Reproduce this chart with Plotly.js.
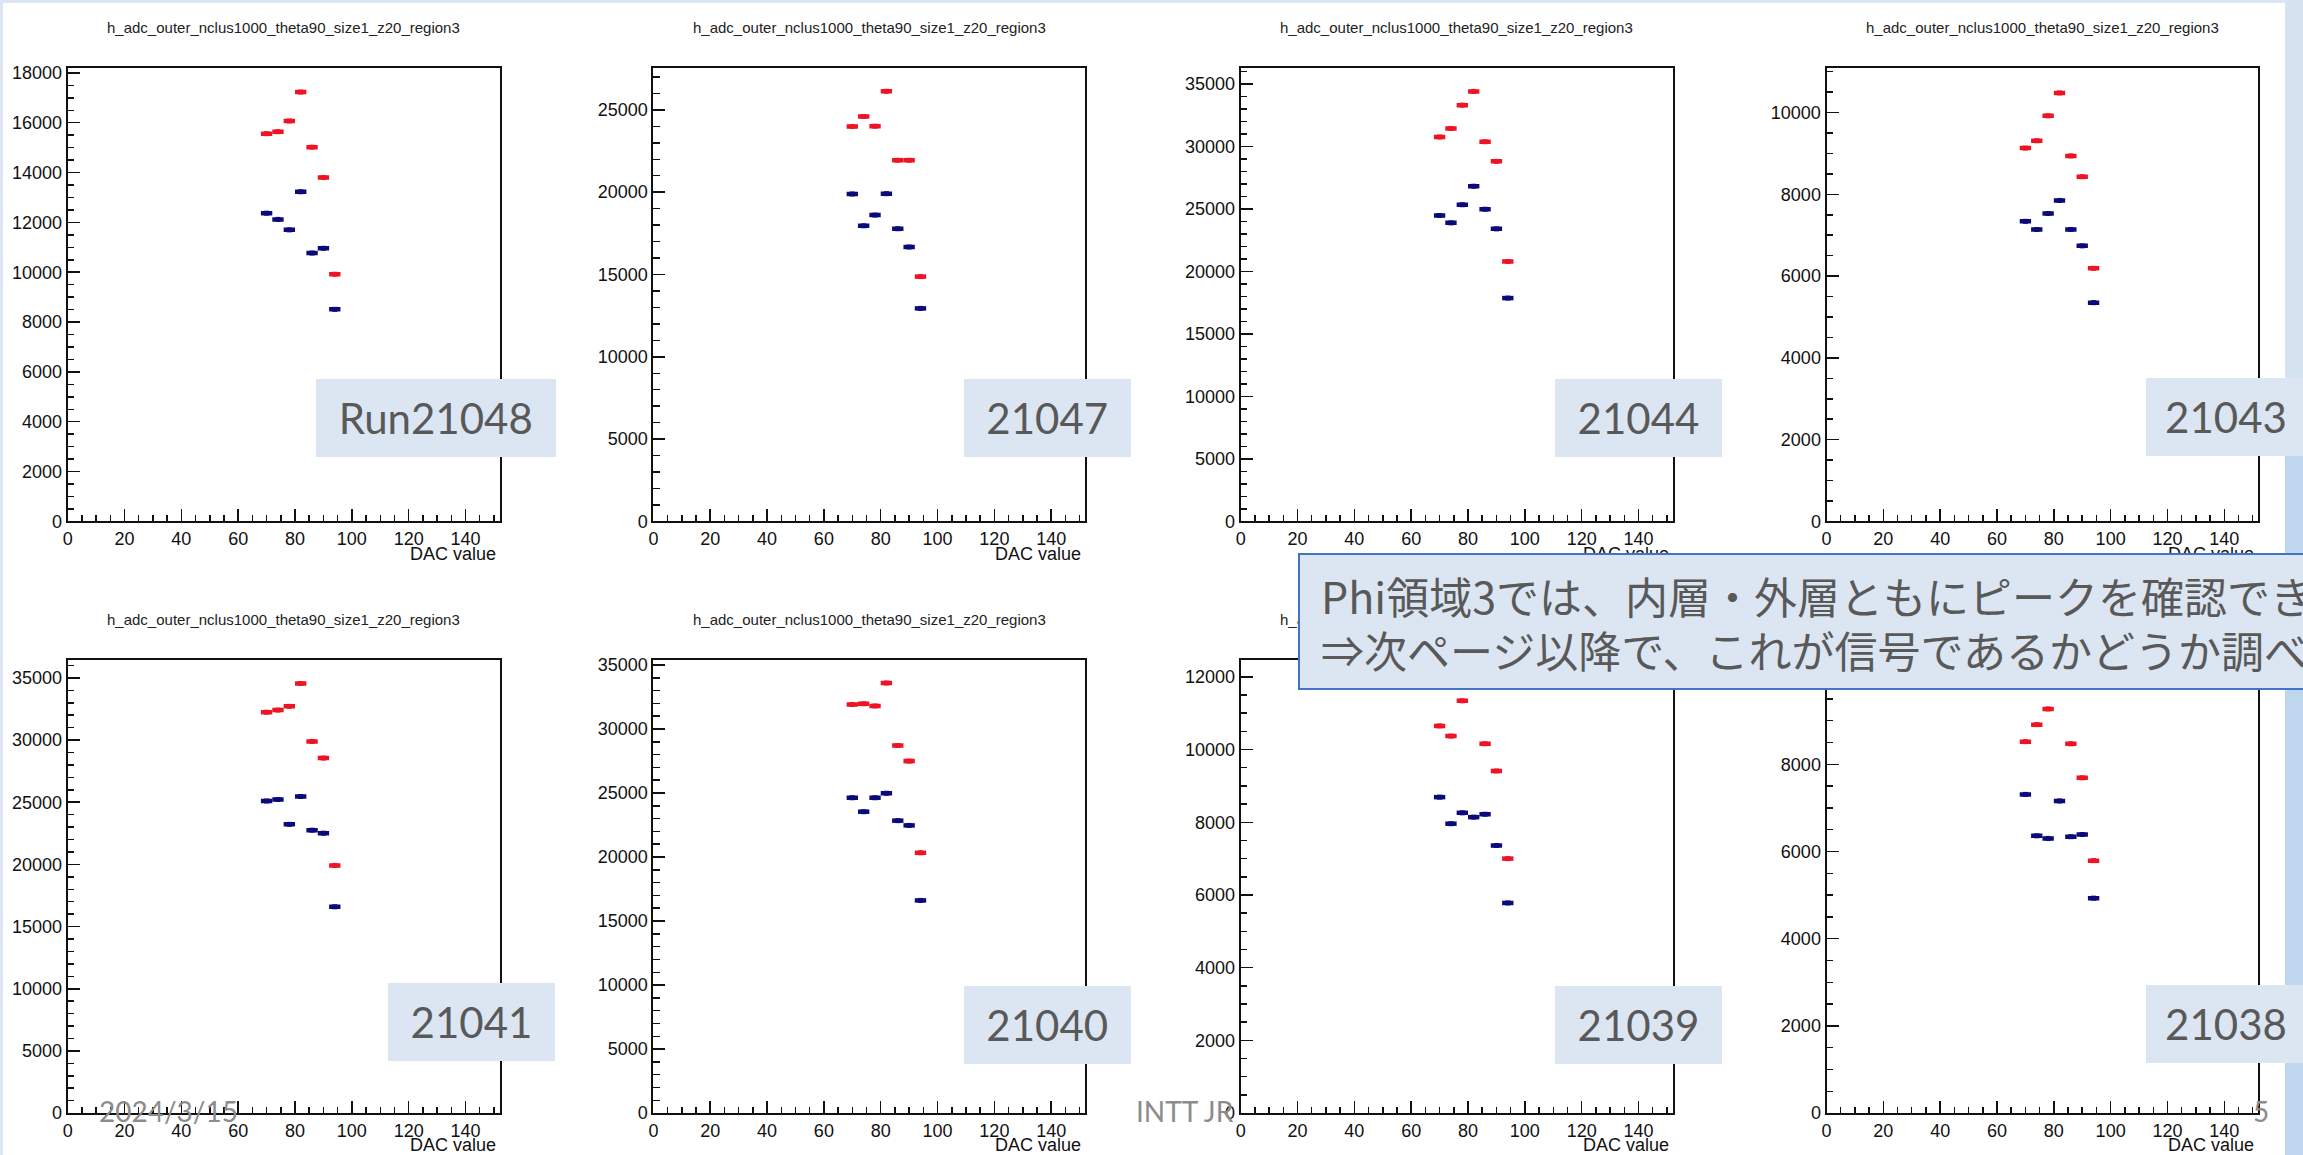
<!DOCTYPE html>
<html>
<head>
<meta charset="utf-8">
<script src="https://cdn.plot.ly/plotly-3.0.1.min.js"></script>
<style>
html,body{margin:0;padding:0;background:#fff;overflow:hidden}
#chart{width:2303px;height:1155px}
</style>
</head>
<body>
<div id="chart"></div>
<script>
// ---------------- data ----------------
const dacValues = [70, 74, 78, 82, 86, 90, 94];
const plotTitle = 'h_adc_outer_nclus1000_theta90_size1_z20_region3';
const xAxisLabel = 'DAC value';
const runLabels = ['Run21048', '21047', '21044', '21043', '21041', '21040', '21039', '21038'];

const red21048  = [15560, 15640, 16070, 17230, 15020, 13800, 9920];
const blue21048 = [12370, 12120, 11700, 13230, 10770, 10960, 8510];
const red21047  = [23990, 24600, 24010, 26130, 21940, 21940, 14870];
const blue21047 = [19890, 17960, 18610, 19910, 17780, 16670, 12940];
const red21044  = [30760, 31440, 33310, 34410, 30380, 28810, 20800];
const blue21044 = [24480, 23890, 25340, 26820, 24980, 23410, 17870];
const red21043  = [9130, 9310, 9920, 10480, 8940, 8430, 6190];
const blue21043 = [7340, 7140, 7530, 7850, 7140, 6740, 5350];
const red21041  = [32240, 32410, 32710, 34550, 29890, 28550, 19920];
const blue21041 = [25100, 25220, 23220, 25460, 22750, 22510, 16590];
const red21040  = [31910, 31970, 31800, 33590, 28710, 27490, 20330];
const blue21040 = [24630, 23540, 24630, 24980, 22840, 22470, 16610];
const red21039  = [10650, 10370, 11340, 11850, 10160, 9410, 7000];
const blue21039 = [8690, 7960, 8260, 8140, 8220, 7360, 5780];
const red21038  = [8520, 8910, 9270, 9880, 8470, 7690, 5790];
const blue21038 = [7310, 6360, 6300, 7160, 6340, 6390, 4930];

const redSeries  = [red21048, red21047, red21044, red21043, red21041, red21040, red21039, red21038];
const blueSeries = [blue21048, blue21047, blue21044, blue21043, blue21041, blue21040, blue21039, blue21038];

const yAxisMax   = [18180, 27520, 36250, 11080, 36430, 35380, 12460, 10390];
const yMajorStep = [2000, 5000, 5000, 2000, 5000, 5000, 2000, 2000];
const yMinorStep = [500, 1000, 1000, 500, 1000, 1000, 500, 500];
const xAxisMax = 152;
const binHalfWidth = 2;

const boxLine1 = 'Phi領域3では、内層・外層ともにピークを確認できた';
const boxLine2 = '⇒次ページ以降で、これが信号であるかどうか調べる';
const footerDate = '2024/3/15';
const footerName = 'INTT JR';
const pageNumber = '5';

// ---------------- layout constants (pixels) ----------------
const W = 2303, H = 1155;
const colLeft = [67.7, 653.4, 1240.7, 1826.5];
const frameW = 431.9;
const rowTop = [68.4, 660.1];
const frameH = 453.0;
const titleY = [27.7, 619.4];
const dacLabelY = [553.7, 1144.7];
const runBoxes = [
  [315.5, 379, 555, 457], [964, 379, 1130.5, 457], [1555, 379, 1722, 457], [2146, 378, 2306, 456],
  [388, 983, 555, 1061], [964, 985.6, 1130.5, 1063.3], [1555, 985.6, 1722, 1063.3], [2146, 985, 2306, 1062.5]
];

const RED = '#ee1424';
const BLUE = '#0b0a7a';
const AXC = '#111111';
const rootFont = 'Liberation Sans, Arial, Helvetica, sans-serif';

const px = v => v / W;
const py = v => 1 - v / H;

const traces = [];
const layout = {
  width: W, height: H,
  margin: {l: 0, r: 0, t: 0, b: 0},
  paper_bgcolor: '#ffffff',
  plot_bgcolor: '#ffffff',
  showlegend: false,
  annotations: [],
  shapes: []
};

for (let i = 0; i < 8; i++) {
  const col = i % 4, row = Math.floor(i / 4);
  const xa = 'x' + (i + 1), ya = 'y' + (i + 1);
  const xKey = 'xaxis' + (i === 0 ? '' : (i + 1));
  const yKey = 'yaxis' + (i === 0 ? '' : (i + 1));
  const left = colLeft[col], top = rowTop[row];

  [[redSeries[i], RED], [blueSeries[i], BLUE]].forEach(([vals, c]) => {
    traces.push({
      type: 'scatter', mode: 'markers',
      x: dacValues, y: vals,
      xaxis: xa, yaxis: ya,
      marker: {symbol: 'square', size: 5, color: c},
      error_x: {type: 'constant', value: binHalfWidth, thickness: 4.5, width: 0, color: c},
      hoverinfo: 'skip', cliponaxis: false
    });
  });

  const common = {
    showgrid: false, zeroline: false,
    showline: true, mirror: true, linecolor: AXC, linewidth: 2,
    ticks: 'inside', tickcolor: AXC, tickwidth: 1.5, ticklen: 12,
    tickfont: {family: rootFont, size: 18, color: AXC},
    tickformat: 'd', tickmode: 'linear', tick0: 0, fixedrange: true
  };
  layout[xKey] = Object.assign({}, common, {
    domain: [px(left), px(left + frameW)],
    anchor: ya, range: [0, xAxisMax], dtick: 20,
    minor: {dtick: 5, ticklen: 6.5, ticks: 'inside', tickcolor: AXC, tickwidth: 1.5}
  });
  layout[yKey] = Object.assign({}, common, {
    domain: [py(top + frameH), py(top)],
    anchor: xa, range: [0, yAxisMax[i]], dtick: yMajorStep[i],
    minor: {dtick: yMinorStep[i], ticklen: 6.5, ticks: 'inside', tickcolor: AXC, tickwidth: 1.5}
  });

  layout.annotations.push({
    xref: 'paper', yref: 'paper', x: px(left + frameW / 2), y: py(titleY[row]),
    xanchor: 'center', yanchor: 'middle', showarrow: false,
    text: plotTitle, font: {family: rootFont, size: 15, color: '#222'}
  });
  layout.annotations.push({
    xref: 'paper', yref: 'paper', x: px(left + frameW - 2), y: py(dacLabelY[row]),
    xanchor: 'right', yanchor: 'middle', showarrow: false,
    text: xAxisLabel, font: {family: rootFont, size: 18, color: AXC}
  });
}

// slide decorations
layout.shapes.push(
  {type: 'rect', xref: 'paper', yref: 'paper', x0: 0, x1: 1, y0: py(3), y1: 1, line: {width: 0}, fillcolor: '#dce6f2', layer: 'below'},
  {type: 'rect', xref: 'paper', yref: 'paper', x0: 0, x1: px(3), y0: 0, y1: 1, line: {width: 0}, fillcolor: '#dce6f2', layer: 'below'},
  {type: 'rect', xref: 'paper', yref: 'paper', x0: px(2285), x1: 1, y0: py(456), y1: 1, line: {width: 0}, fillcolor: '#d6e3f1', layer: 'below'},
  {type: 'rect', xref: 'paper', yref: 'paper', x0: px(2285), x1: 1, y0: 0, y1: py(456), line: {width: 0}, fillcolor: '#bed6ee', layer: 'below'}
);

// footers
const footFont = {family: 'Lato, Noto Sans, sans-serif', size: 28, color: '#8c8c8c'};
[[footerDate, 168], [footerName, 1184.7], [pageNumber, 2261]].forEach(([t, x]) => {
  layout.annotations.push({
    xref: 'paper', yref: 'paper', x: px(x), y: py(1111), xanchor: 'center', yanchor: 'middle',
    showarrow: false, text: t, font: footFont
  });
});

// run label boxes
runBoxes.forEach((b, i) => {
  layout.annotations.push({
    xref: 'paper', yref: 'paper', x: px(b[0]), y: py(b[1]), xanchor: 'left', yanchor: 'top',
    width: b[2] - b[0], height: b[3] - b[1], showarrow: false,
    bgcolor: '#dce6f2', borderpad: 0, borderwidth: 0, align: 'center', valign: 'middle',
    text: runLabels[i], font: {family: 'Lato, Noto Sans, sans-serif', size: 42, color: '#595959'}
  });
});

// summary text box
layout.annotations.push({
  xref: 'paper', yref: 'paper', x: px(1298), y: py(553), xanchor: 'left', yanchor: 'top',
  width: 1100, height: 133, showarrow: false,
  bgcolor: '#dce6f2', bordercolor: '#4472c4', borderwidth: 2, borderpad: 0,
  text: ' ', font: {size: 10}
});
[[boxLine1, 595.3], [boxLine2, 649]].forEach(([t, y]) => {
  layout.annotations.push({
    xref: 'paper', yref: 'paper', x: px(1318.6), y: py(y), xanchor: 'left', yanchor: 'middle',
    showarrow: false, text: t,
    font: {family: 'Noto Sans CJK JP, Noto Sans, sans-serif', size: 43, color: '#595959'}
  });
});

Plotly.newPlot('chart', traces, layout, {staticPlot: true, displayModeBar: false});
</script>
</body>
</html>
